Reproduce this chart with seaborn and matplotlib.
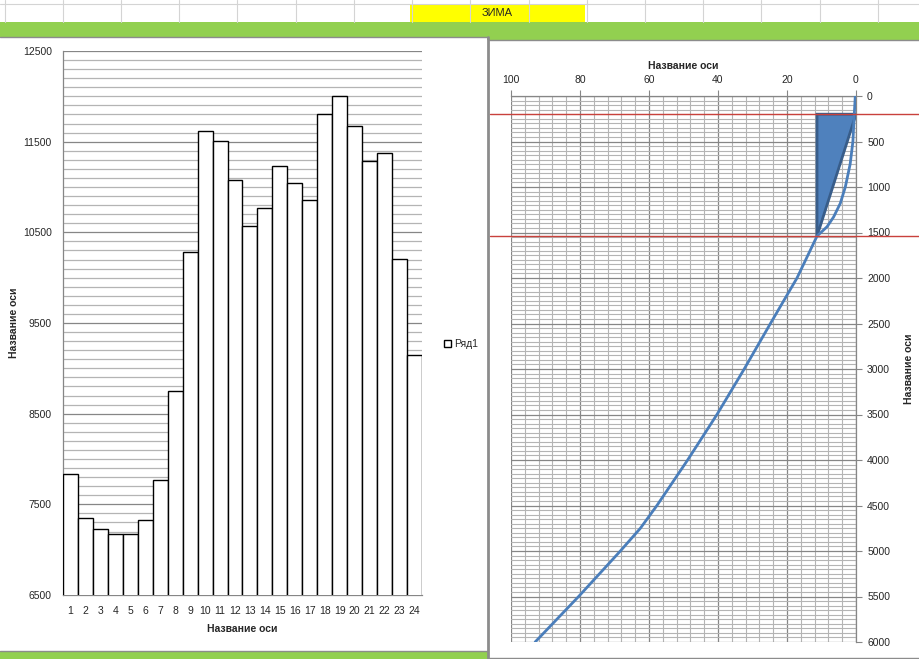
import numpy as np
import pandas as pd
import matplotlib
matplotlib.use('Agg')
import matplotlib.pyplot as plt
import seaborn as sns
from matplotlib.patches import Rectangle, Patch
from matplotlib.ticker import MultipleLocator

# left chart: one bar per hour
HOURS = [str(h) for h in range(1, 25)]
VALUES = [7830, 7346, 7225, 7169, 7169, 7324, 7765, 8746, 10280, 11617, 11504, 11073,
          10566, 10765, 11228, 11040, 10853, 11801, 12000, 11669, 11283, 11371, 10202, 9147]
SERIES_NAME = 'Ряд1'
AXIS_TITLE = 'Название оси'
SHEET_LABEL = 'ЗИМА'
LEFT_YTICKS = [6500, 7500, 8500, 9500, 10500, 11500, 12500]

# right chart: curve and shaded triangle (x value vs depth)
CURVE_DEPTH = [0, 200, 500, 750, 1000, 1180, 1330, 1437, 1540, 2000, 2500, 3000,
               3500, 4000, 4500, 4750, 5000, 5500, 6000]
CURVE_X = [0.2, 0.5, 0.9, 1.7, 3.1, 4.55, 6.5, 8.4, 11.3, 17.1, 24.8, 32.4,
           40.3, 48.8, 57.7, 62.5, 68.3, 80.4, 93.0]
TRI_X = [11.3, 0, 11.3]
TRI_DEPTH = [200, 200, 1540]
RED_LEVELS = [200, 1540]

sns.set_style('white')
plt.rcParams['font.family'] = ['Liberation Sans', 'DejaVu Sans']

W, H = 920, 659
fig = plt.figure(figsize=(W / 100, H / 100), dpi=100)

# spreadsheet background
bg = fig.add_axes([0, 0, 1, 1], zorder=0)
bg.set_xlim(0, W)
bg.set_ylim(H, 0)
bg.axis('off')
bg.axhline(4, color='#d4d4d4', lw=0.8)
for x in np.arange(4.7, W, 58.2):
    bg.plot([x, x], [0, 22], color='#d4d4d4', lw=0.8)
bg.add_patch(Rectangle((410, 4), 175, 18, facecolor='#FFFF00', edgecolor='none'))
bg.text(497.5, 13.5, SHEET_LABEL, ha='center', va='center', fontsize=8)
bg.add_patch(Rectangle((0, 22), W, 15, facecolor='#92D050', edgecolor='none'))
bg.add_patch(Rectangle((487, 37), W - 487, 3, facecolor='#92D050', edgecolor='none'))
bg.add_patch(Rectangle((0, 651), 488, 8, facecolor='#92D050', edgecolor='none'))
bg.plot([0, 488], [37, 37], color='#8c8c8c', lw=1)
bg.plot([488, W], [40, 40], color='#8c8c8c', lw=1)
bg.plot([0, 488], [651, 651], color='#8c8c8c', lw=1)
bg.plot([488, W], [658, 658], color='#8c8c8c', lw=1)
bg.plot([488, 488], [37, H], color='#8c8c8c', lw=2)

# ---- left chart ----
ax1 = fig.add_axes([63 / W, 1 - 595 / H, 359 / W, 544 / H], zorder=2)
df1 = pd.DataFrame({'hour': HOURS, 'value': VALUES})
sns.barplot(data=df1, x='hour', y='value', ax=ax1, color='white', saturation=1,
            edgecolor='black', linewidth=1, width=1.0, zorder=3)
ax1.set_xlim(-0.5, len(HOURS) - 0.5)
ax1.set_ylim(LEFT_YTICKS[0], LEFT_YTICKS[-1])
ax1.set_yticks(LEFT_YTICKS)
ax1.yaxis.set_minor_locator(MultipleLocator(100))
ax1.set_axisbelow(True)
ax1.grid(which='minor', axis='y', color='#b4b4b4', lw=0.9)
ax1.grid(which='major', axis='y', color='#868686', lw=0.9)
ax1.grid(which='major', axis='x', visible=False)
for side in ['top', 'right']:
    ax1.spines[side].set_visible(False)
for side in ['left', 'bottom']:
    ax1.spines[side].set_color('#868686')
    ax1.spines[side].set_linewidth(0.9)
ax1.tick_params(axis='y', which='major', length=4, color='#868686', labelsize=7.5, pad=4)
ax1.tick_params(axis='y', which='minor', length=0)
ax1.tick_params(axis='x', length=0, labelsize=7.5, pad=8)
ax1.set_xlabel(AXIS_TITLE, fontsize=7.5, fontweight='bold', labelpad=6)
ax1.set_ylabel(AXIS_TITLE, fontsize=7.5, fontweight='bold', labelpad=3)
ax1.legend(handles=[Patch(facecolor='white', edgecolor='black', label=SERIES_NAME)],
           loc='center left', bbox_to_anchor=(1.035, 0.461), frameon=False,
           fontsize=7.5, handlelength=0.7, handleheight=0.7, handletextpad=0.3)

# ---- right chart ----
ax2 = fig.add_axes([511 / W, 1 - 642 / H, 345 / W, 546 / H], zorder=2)
df2 = pd.DataFrame({'x': CURVE_X, 'depth': CURVE_DEPTH})
ax2.fill(TRI_X, TRI_DEPTH, facecolor='#4F81BD', edgecolor='#385D8A', lw=2, zorder=3)
sns.lineplot(data=df2, x='x', y='depth', sort=False, ax=ax2, color='#4A7EBB',
             lw=2, zorder=4)
ax2.set_xlim(100, 0)
ax2.set_ylim(6000, 0)
ax2.set_xticks(np.arange(0, 101, 20))
ax2.xaxis.set_minor_locator(MultipleLocator(4))
ax2.set_yticks(np.arange(0, 6001, 500))
ax2.yaxis.set_minor_locator(MultipleLocator(50))
ax2.set_axisbelow(True)
ax2.grid(which='minor', color='#b4b4b4', lw=0.8)
ax2.grid(which='major', color='#868686', lw=0.9)
ax2.xaxis.tick_top()
ax2.xaxis.set_label_position('top')
ax2.yaxis.tick_right()
ax2.yaxis.set_label_position('right')
for side in ['left', 'bottom']:
    ax2.spines[side].set_visible(False)
for side in ['top', 'right']:
    ax2.spines[side].set_color('#868686')
    ax2.spines[side].set_linewidth(0.9)
ax2.tick_params(which='major', length=4, color='#868686', labelsize=7.5, pad=4)
ax2.tick_params(which='minor', length=0)
ax2.set_xlabel(AXIS_TITLE, fontsize=7.5, fontweight='bold', labelpad=4)
ax2.set_ylabel(AXIS_TITLE, fontsize=7.5, fontweight='bold', labelpad=10)
for lvl in RED_LEVELS:
    ax2.axhline(lvl, xmin=-0.061, xmax=1.186, color='#C9413C', lw=1,
                clip_on=False, zorder=5)

fig.savefig('out.png', dpi=100)
